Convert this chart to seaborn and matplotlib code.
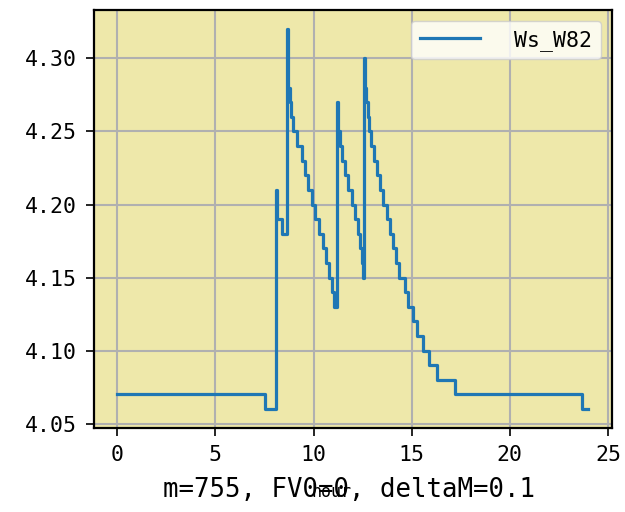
# Step plot of Ws_W82 over one day (hours).

import pandas as pd
import matplotlib
matplotlib.use("Agg")
import matplotlib.pyplot as plt
import seaborn as sns

hours = [0, 7.54, 8.10, 8.15, 8.40, 8.64, 8.68, 8.72, 8.81, 8.86,
         8.96, 9.17, 9.42, 9.55, 9.73, 9.93, 10.08, 10.28, 10.49, 10.64,
         10.79, 10.95, 11.02, 11.18, 11.22, 11.25, 11.33, 11.43, 11.58, 11.76,
         11.94, 12.11, 12.27, 12.37, 12.47, 12.52, 12.59, 12.63, 12.67, 12.76,
         12.80, 12.93, 13.08, 13.23, 13.41, 13.56, 13.74, 13.87, 14.05, 14.20,
         14.35, 14.66, 14.81, 15.06, 15.27, 15.57, 15.88, 16.28, 17.20, 23.66,
         24.0]
ws = [4.07, 4.06, 4.21, 4.19, 4.18, 4.32, 4.29, 4.28, 4.27, 4.26,
      4.25, 4.24, 4.23, 4.22, 4.21, 4.20, 4.19, 4.18, 4.17, 4.16,
      4.15, 4.14, 4.13, 4.27, 4.26, 4.25, 4.24, 4.23, 4.22, 4.21,
      4.20, 4.19, 4.18, 4.17, 4.16, 4.15, 4.30, 4.28, 4.27, 4.26,
      4.25, 4.24, 4.23, 4.22, 4.21, 4.20, 4.19, 4.18, 4.17, 4.16,
      4.15, 4.14, 4.13, 4.12, 4.11, 4.10, 4.09, 4.08, 4.07, 4.06,
      4.06]
series_name = "Ws_W82"
note = "m=755, FV0=0, deltaM=0.1"


def StepPlot():
    plt.rcParams['font.family'] = ['DejaVu Sans Mono', 'Noto Sans CJK SC']
    plt.rcParams['axes.unicode_minus'] = False
    df = pd.DataFrame({'hour': hours, 'ws': ws})

    fig, ax = plt.subplots(figsize=(6.25, 5.12), dpi=100)
    fig.subplots_adjust(left=0.150, right=0.979, top=0.980, bottom=0.164)
    ax.set_facecolor('#EEE8AA')

    sns.lineplot(x='hour', y='ws', data=df, ax=ax, color='#1f77b4',
                 linewidth=2.3, drawstyle='steps-post', estimator=None,
                 sort=False, label=' ' + series_name)

    ax.grid(True, color='#b0b0b0', linewidth=1.5)
    ax.set_axisbelow(True)
    for s in ax.spines.values():
        s.set_linewidth(1.6)
        s.set_color('black')
    ax.tick_params(labelsize=15.5, width=1.2, length=6, pad=6)
    ax.set_xticks([0, 5, 10, 15, 20, 25])
    ax.set_yticks([4.05, 4.10, 4.15, 4.20, 4.25, 4.30])
    ax.set_ylabel('')
    ax.set_xlabel('hour', fontsize=12, va='baseline')
    ax.xaxis.set_label_coords(0.530, 0.030, transform=fig.transFigure)
    ax.legend(loc='upper right', fontsize=15.5, handlelength=2.8,
              handletextpad=1.0)

    fig.text(0.558, 0.030, note, fontsize=18.5, ha='center', va='baseline')
    fig.savefig('out.png')


def main():
    StepPlot()


if __name__ == "__main__":
    main()
